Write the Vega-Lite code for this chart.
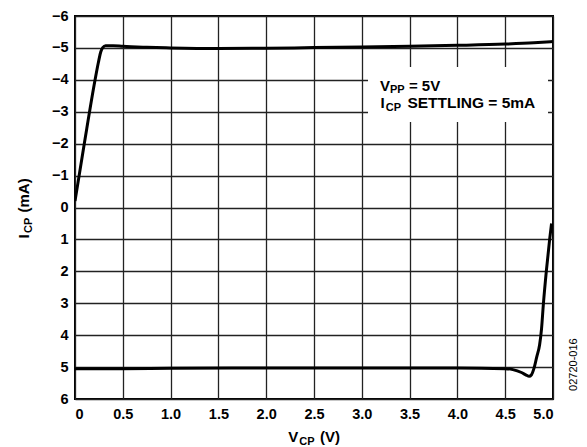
{
  "$schema": "https://vega.github.io/schema/vega-lite/v6.json",
  "autosize": {"type": "none"},
  "padding": {"left": 75, "top": 16, "right": 34, "bottom": 48},
  "width": 478,
  "height": 383,
  "background": "white",
  "config": {
    "view": {"stroke": "black", "strokeWidth": 2},
    "font": "Liberation Sans",
    "axis": {
      "grid": true,
      "gridColor": "#222222",
      "gridWidth": 1.3,
      "gridOpacity": 1,
      "ticks": false,
      "domain": false,
      "labelFont": "Liberation Sans",
      "labelFontWeight": "bold",
      "labelFontSize": 14.5,
      "labelColor": "black",
      "labelOverlap": false,
      "title": null
    },
    "text": {"font": "Liberation Sans", "fontWeight": "bold", "color": "black", "align": "left", "baseline": "alphabetic"}
  },
  "datasets": {
    "curve": [
      {"branch": "source", "v": 0, "i": -0.2},
      {"branch": "source", "v": 0.1, "i": -2.05},
      {"branch": "source", "v": 0.21, "i": -4.0},
      {"branch": "source", "v": 0.245, "i": -4.55},
      {"branch": "source", "v": 0.27, "i": -4.88},
      {"branch": "source", "v": 0.29, "i": -5.01},
      {"branch": "source", "v": 0.32, "i": -5.07},
      {"branch": "source", "v": 0.4, "i": -5.07},
      {"branch": "source", "v": 0.5, "i": -5.05},
      {"branch": "source", "v": 0.75, "i": -5.02},
      {"branch": "source", "v": 1.0, "i": -5.0},
      {"branch": "source", "v": 1.5, "i": -4.98},
      {"branch": "source", "v": 2.0, "i": -4.99},
      {"branch": "source", "v": 2.5, "i": -5.01},
      {"branch": "source", "v": 3.0, "i": -5.03},
      {"branch": "source", "v": 3.5, "i": -5.05},
      {"branch": "source", "v": 4.0, "i": -5.08},
      {"branch": "source", "v": 4.5, "i": -5.12},
      {"branch": "source", "v": 4.8, "i": -5.16},
      {"branch": "source", "v": 5.0, "i": -5.2},
      {"branch": "sink", "v": 0, "i": 5.05},
      {"branch": "sink", "v": 0.5, "i": 5.05},
      {"branch": "sink", "v": 1.0, "i": 5.04},
      {"branch": "sink", "v": 2.0, "i": 5.03},
      {"branch": "sink", "v": 3.0, "i": 5.03},
      {"branch": "sink", "v": 4.0, "i": 5.03},
      {"branch": "sink", "v": 4.5, "i": 5.05},
      {"branch": "sink", "v": 4.58, "i": 5.08},
      {"branch": "sink", "v": 4.67, "i": 5.17},
      {"branch": "sink", "v": 4.72, "i": 5.25},
      {"branch": "sink", "v": 4.75, "i": 5.29},
      {"branch": "sink", "v": 4.775, "i": 5.24},
      {"branch": "sink", "v": 4.8, "i": 5.05},
      {"branch": "sink", "v": 4.83, "i": 4.68},
      {"branch": "sink", "v": 4.86, "i": 4.3},
      {"branch": "sink", "v": 4.88, "i": 3.8},
      {"branch": "sink", "v": 4.9, "i": 3.0},
      {"branch": "sink", "v": 4.93, "i": 2.0},
      {"branch": "sink", "v": 4.965, "i": 1.0},
      {"branch": "sink", "v": 4.985, "i": 0.5}
    ],
    "box": [{"v": 3.065, "v2": 4.948, "i": -4.4, "i2": -2.68}]
  },
  "encoding": {
    "x": {"field": "v", "type": "quantitative",
          "scale": {"domain": [0, 5], "nice": false, "zero": false},
          "axis": {"values": [0, 0.5, 1, 1.5, 2, 2.5, 3, 3.5, 4, 4.5, 5], "labelPadding": 8,
                   "labelExpr": "datum.value == 0 ? '0' : format(datum.value, '.1f')"}},
    "y": {"field": "i", "type": "quantitative",
          "scale": {"domain": [-6, 6], "nice": false, "zero": false, "reverse": true},
          "axis": {"values": [-6, -5, -4, -3, -2, -1, 0, 1, 2, 3, 4, 5, 6], "labelPadding": 7, "format": "d"}}
  },
  "layer": [
    {
      "data": {"name": "curve"},
      "mark": {"type": "line", "color": "black", "strokeWidth": 3, "interpolate": "monotone", "clip": true},
      "encoding": {"detail": {"field": "branch"}}
    },
    {
      "data": {"name": "box"},
      "mark": {"type": "rect", "fill": "white"},
      "encoding": {"x2": {"field": "v2"}, "y2": {"field": "i2"}}
    },
    {
      "data": {"values": [{"v": 3.2, "i": -4, "t": "V"}]},
      "mark": {"type": "text", "dx": -1, "dy": 11, "fontSize": 15},
      "encoding": {"text": {"field": "t"}}
    },
    {
      "data": {"values": [{"v": 3.2, "i": -4, "t": "PP"}]},
      "mark": {"type": "text", "dx": 9, "dy": 13.5, "fontSize": 11},
      "encoding": {"text": {"field": "t"}}
    },
    {
      "data": {"values": [{"v": 3.2, "i": -4, "t": "= 5V"}]},
      "mark": {"type": "text", "dx": 28, "dy": 11, "fontSize": 15},
      "encoding": {"text": {"field": "t"}}
    },
    {
      "data": {"values": [{"v": 3.2, "i": -4, "t": "I"}]},
      "mark": {"type": "text", "dx": -0.5, "dy": 28.5, "fontSize": 15},
      "encoding": {"text": {"field": "t"}}
    },
    {
      "data": {"values": [{"v": 3.2, "i": -4, "t": "CP"}]},
      "mark": {"type": "text", "dx": 4.8, "dy": 31, "fontSize": 11},
      "encoding": {"text": {"field": "t"}}
    },
    {
      "data": {"values": [{"v": 3.2, "i": -4, "t": "SETTLING = 5mA"}]},
      "mark": {"type": "text", "dx": 26.5, "dy": 28.5, "fontSize": 15.5},
      "encoding": {"text": {"field": "t"}}
    },
    {
      "data": {"values": [{"v": 2.5, "i": 6, "t": "V"}]},
      "mark": {"type": "text", "dx": -25.7, "dy": 43.3, "fontSize": 15},
      "encoding": {"text": {"field": "t"}}
    },
    {
      "data": {"values": [{"v": 2.5, "i": 6, "t": "CP"}]},
      "mark": {"type": "text", "dx": -14.8, "dy": 46, "fontSize": 11},
      "encoding": {"text": {"field": "t"}}
    },
    {
      "data": {"values": [{"v": 2.5, "i": 6, "t": "(V)"}]},
      "mark": {"type": "text", "dx": 6, "dy": 43.3, "fontSize": 15},
      "encoding": {"text": {"field": "t"}}
    },
    {
      "data": {"values": [{"v": 0, "i": 0, "t": "I"}]},
      "mark": {"type": "text", "angle": 270, "dx": -31, "dy": -46, "fontSize": 15},
      "encoding": {"text": {"field": "t"}}
    },
    {
      "data": {"values": [{"v": 0, "i": 0, "t": "CP"}]},
      "mark": {"type": "text", "angle": 270, "dx": -25.5, "dy": -43.5, "fontSize": 11},
      "encoding": {"text": {"field": "t"}}
    },
    {
      "data": {"values": [{"v": 0, "i": 0, "t": "(mA)"}]},
      "mark": {"type": "text", "angle": 270, "dx": -5, "dy": -46, "fontSize": 15},
      "encoding": {"text": {"field": "t"}}
    },
    {
      "data": {"values": [{"v": 5, "i": 5, "t": "02720-016"}]},
      "mark": {"type": "text", "angle": 270, "align": "center", "fontWeight": "normal", "dx": 2.5, "dy": 24.3, "fontSize": 11},
      "encoding": {"text": {"field": "t"}}
    }
  ]
}
